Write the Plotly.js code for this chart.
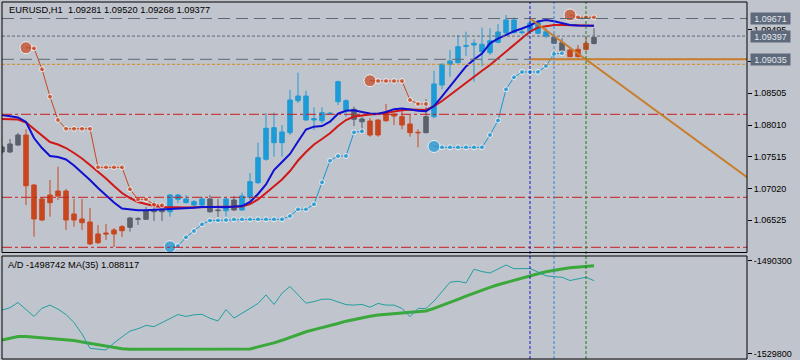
<!DOCTYPE html>
<html><head><meta charset="utf-8">
<script src="https://cdn.plot.ly/plotly-3.0.1.min.js"></script>
<style>html,body{margin:0;padding:0;background:#C0C4CC;}#chart{width:800px;height:360px;}</style>
</head><body><div id="chart"></div>
<script>
// ---- price bars (EURUSD H1) ----
const openP = [1.07589,1.07589,1.07698,1.07854,1.07074,1.06856,1.06918,1.0698,1.0698,1.06622,
1.06544,1.06497,1.0631,1.06325,1.06372,1.06424,1.06414,1.06539,1.06539,1.06657,
1.06657,1.06657,1.06851,1.06798,1.06762,1.06762,1.06856,1.06684,1.06673,1.0684,
1.06684,1.06882,1.0711,1.07475,1.07734,1.07734,1.0789,1.08389,1.08088,1.08088,
1.08077,1.08186,1.08374,1.08244,1.08255,1.08104,1.08072,1.08088,1.08193,1.08182,
1.0814,1.08026,1.07896,1.0789,1.0814,1.08634,1.08957,1.08982,1.09238,1.09258,
1.09154,1.09138,1.093,1.0945,1.0945,1.0945,1.09466,1.09441,1.09398,1.09378,
1.09294,1.0918,1.09191,1.09285,1.09281];
const highP = [1.07698,1.07792,1.07885,1.07943,1.0709,1.06887,1.07152,1.0736,1.07012,1.06856,
1.06856,1.06715,1.0645,1.06466,1.06403,1.0645,1.06575,1.06575,1.06731,1.06824,
1.06793,1.06934,1.06934,1.06918,1.0684,1.06887,1.06918,1.06856,1.06876,1.06902,
1.06954,1.07261,1.07734,1.08193,1.08202,1.0801,1.08556,1.08826,1.08545,1.08286,
1.08286,1.08213,1.08701,1.08411,1.08296,1.08135,1.08119,1.08099,1.08338,1.08197,
1.08275,1.08166,1.07943,1.08411,1.08857,1.08973,1.0918,1.09414,1.09466,1.09347,
1.09528,1.09519,1.09586,1.09726,1.0969,1.09519,1.0969,1.09648,1.09519,1.0943,
1.09363,1.09207,1.09258,1.09378,1.0952];
const lowP = [1.07558,1.07573,1.07682,1.06762,1.06268,1.06512,1.0658,1.0684,1.06372,1.06424,
1.06372,1.06138,1.06154,1.06216,1.06107,1.06263,1.06346,1.0645,1.06528,1.06512,
1.06512,1.0658,1.06793,1.06789,1.06731,1.06746,1.06642,1.06575,1.0658,1.06673,
1.06673,1.0684,1.0709,1.07453,1.07516,1.07516,1.07854,1.08353,1.08077,1.07932,
1.08037,1.08174,1.08322,1.0814,1.07994,1.0787,1.07828,1.07828,1.08061,1.0801,
1.07943,1.07828,1.07662,1.0788,1.08115,1.08567,1.08763,1.08973,1.09086,1.08686,
1.0892,1.09102,1.09285,1.0943,1.09441,1.0943,1.09441,1.0943,1.09363,1.09274,
1.09154,1.09066,1.09066,1.09169,1.09268];
const closeP = [1.07667,1.07714,1.07854,1.07063,1.06544,1.06528,1.06798,1.06902,1.06528,1.06528,
1.06486,1.06154,1.06174,1.0631,1.0631,1.06361,1.06559,1.06548,1.06673,1.06684,
1.067,1.06918,1.06918,1.06856,1.06814,1.06856,1.06657,1.06675,1.06856,1.06684,
1.06902,1.07126,1.075,1.07959,1.07968,1.07901,1.084,1.08462,1.08462,1.08108,
1.08202,1.08193,1.08686,1.08389,1.08099,1.08061,1.07854,1.07854,1.08077,1.0815,
1.0801,1.0789,1.0789,1.0814,1.0865,1.08957,1.09008,1.09231,1.09247,1.09285,
1.09269,1.09325,1.09461,1.09648,1.09648,1.09461,1.09597,1.09606,1.09466,1.09285,
1.09169,1.09076,1.09076,1.09191,1.09377];
// bar colour class: B = up-trend, O = down-trend, G = neutral
const barClass = ["GGG","OOOOOOOOOOOOO","GGGGG","BBBBB","GG","B","G","BBBBBBBBBBBBBB","GG",
"OOOOOOO","G","BBBBBBBBBBBBBBB","GG","OOO","G"].join("").split("");

// ---- moving averages ----
const maFast = [1.08166,1.08143,1.08127,1.08057,1.07807,1.07651,1.07526,1.07511,1.07472,1.07378,
1.07269,1.07152,1.07027,1.0691,1.06801,1.06707,1.06689,1.06679,1.06679,1.06684,
1.06692,1.067,1.06704,1.06709,1.06718,1.06731,1.06734,1.06731,1.06726,1.06731,
1.06746,1.06809,1.06934,1.07082,1.07308,1.07433,1.07558,1.07753,1.0794,1.07984,
1.07994,1.08062,1.08186,1.08233,1.08239,1.08213,1.08189,1.08186,1.08213,1.08257,
1.08269,1.08252,1.08232,1.08224,1.08306,1.08455,1.08618,1.08767,1.08923,1.09032,
1.09125,1.09285,1.09359,1.09419,1.09472,1.09515,1.09562,1.09625,1.09648,1.09629,
1.09601,1.0957,1.09561,1.09559,1.09559];
const maSlow = [1.08104,1.08104,1.08096,1.08049,1.07948,1.07838,1.07745,1.07706,1.07651,1.07573,
1.07487,1.07386,1.07285,1.07175,1.07058,1.06949,1.06871,1.06809,1.06778,1.06746,
1.06731,1.06726,1.06723,1.06723,1.06728,1.06731,1.06731,1.06734,1.06735,1.06737,
1.06739,1.06778,1.06848,1.06949,1.07058,1.0716,1.07292,1.07456,1.07589,1.07706,
1.07792,1.0788,1.07994,1.08088,1.08143,1.08163,1.08174,1.08182,1.08202,1.08224,
1.08239,1.08252,1.08252,1.08244,1.08306,1.08384,1.08478,1.08575,1.08673,1.08764,
1.08856,1.08946,1.09051,1.0916,1.09274,1.09375,1.09469,1.09531,1.09556,1.0957,
1.0957,1.09568,1.09562,1.09559,1.09559];

// ---- parabolic SAR style dots ----
const N = null;
const sarAbove = [N,N,N,1.09216,1.09207,1.08879,1.08452,1.08088,1.07951,1.07951,
1.07951,1.07951,1.0735,1.0735,1.0735,1.0735,1.07007,1.06851,1.06851,1.0677,
1.06757,N,N,N,N,N,N,N,N,N,
N,N,N,N,N,N,N,N,N,N,
N,N,N,N,N,N,1.08701,1.08696,1.08696,1.08696,
1.08696,1.084,1.08338,1.08338,N,N,N,N,N,N,
N,N,N,N,N,N,N,N,N,N,
N,1.09726,1.0969,1.0969,1.0969];
const sarBelow = [N,N,N,N,N,N,N,N,N,N,
N,N,N,N,N,N,N,N,N,N,
N,1.06111,1.06122,1.06258,1.06356,1.06461,1.0652,1.06523,1.06528,1.06539,
1.06539,1.06539,1.06539,1.06539,1.06539,1.06539,1.0659,1.06695,1.06695,1.06773,
1.07116,1.07453,1.07526,1.07526,1.07896,1.07912,N,N,N,N,
N,N,N,N,1.07675,1.07662,1.07662,1.07662,1.07662,1.07662,
1.07662,1.07854,1.0808,1.08567,1.08754,1.08837,1.08837,1.08837,1.0893,1.09118,
1.09129,N,N,N,N];

// ---- A/D indicator ----
const adLine = [-1511200,-1510200,-1508000,-1510800,-1513900,-1510400,-1509100,-1510800,-1513100,-1516500,
-1521300,-1527400,-1527700,-1528100,-1525100,-1522600,-1520100,-1519100,-1517700,-1518200,
-1516400,-1514600,-1513100,-1513900,-1513200,-1513000,-1514700,-1515800,-1511000,-1514600,
-1512700,-1510500,-1508400,-1504800,-1508800,-1504100,-1501200,-1504700,-1508300,-1507600,
-1506600,-1506600,-1507900,-1508900,-1509100,-1508800,-1510000,-1508400,-1509100,-1509100,
-1510500,-1514000,-1510500,-1510500,-1507400,-1503300,-1499400,-1499000,-1499700,-1493900,
-1494900,-1495500,-1493800,-1492100,-1493700,-1493600,-1493600,-1495100,-1496700,-1497100,
-1497300,-1498700,-1498000,-1497300,-1498742];
const adMA35 = [-1523900,-1523100,-1522400,-1522400,-1522700,-1522900,-1523200,-1523400,-1523600,-1524100,
-1524700,-1525300,-1525800,-1526500,-1527300,-1527600,-1527800,-1527800,-1527800,-1527800,
-1527800,-1527800,-1527800,-1527800,-1527800,-1527800,-1527800,-1527800,-1527800,-1527800,
-1527800,-1527700,-1526800,-1526100,-1525100,-1524000,-1522700,-1521400,-1520400,-1519500,
-1518700,-1517900,-1516900,-1515900,-1515100,-1514400,-1513800,-1513300,-1512900,-1512700,
-1512400,-1512100,-1511900,-1511600,-1510500,-1509300,-1508100,-1506700,-1505300,-1504000,
-1502800,-1501600,-1500500,-1499500,-1498600,-1497600,-1496700,-1495800,-1495000,-1494300,
-1493800,-1493300,-1492900,-1492700,-1492400];

// ---- chart objects ----
const priceTicks = [1.06525,1.07020,1.07515,1.08010,1.08505,1.09000,1.09495];
const priceTickText = ['1.06525','1.07020','1.07515','1.08010','1.08505','','1.09495'];
const adTicks = [-1490300,-1529800];
const adTickText = ['-1490300','-1529800'];
const hLevels = {dashLong:[1.09671,1.09035], dashShort:[1.09397], dotOrange:[1.08957], dashDotRed:[1.08177,1.06882,1.06102]};
const priceLabels = ['1.09671','1.09397','1.09035'];
const trendAnchors = [[66,1.09671],[80,1.08393]];
const levelStartBar = 66, levelPrice = 1.09035;
const vLines = [[66,'#1616C8'],[69,'#2C86E0'],[73,'#1E7A1E']];
const titleText = 'EURUSD,H1  1.09281 1.09520 1.09268 1.09377';
const adText = 'A/D -1498742 MA(35) 1.088117';

// ---- build ----
const idx = openP.map((_, i) => i);
const FONT = 'Liberation Sans, Arial, sans-serif';
const colors = {B:'#1E9BD7', O:'#C8461E', G:'#5A606C'};
const traces = [];
['G','O','B'].forEach(c => {
  const sel = idx.filter(i => barClass[i] === c);
  traces.push({type:'candlestick', xaxis:'x', yaxis:'y', x:sel,
    open:sel.map(i=>openP[i]), high:sel.map(i=>highP[i]), low:sel.map(i=>lowP[i]), close:sel.map(i=>closeP[i]),
    increasing:{line:{color:colors[c], width:1}, fillcolor:colors[c]},
    decreasing:{line:{color:colors[c], width:1}, fillcolor:colors[c]},
    whiskerwidth:0, hoverinfo:'skip', showlegend:false});
});
traces.push({type:'scatter', mode:'lines', x:idx, y:maSlow, line:{color:'#D01818', width:2}, hoverinfo:'skip'});
traces.push({type:'scatter', mode:'lines', x:idx, y:maFast, line:{color:'#1010D0', width:2}, hoverinfo:'skip'});
function sarTrace(arr, col){
  const sizes = arr.map((v,i)=> v==null ? 0 : ((i===0 || arr[i-1]==null) ? 12 : 5));
  return {type:'scatter', mode:'lines+markers', x:idx, y:arr, connectgaps:false,
    line:{color:col, width:1}, marker:{color:col, size:sizes}, hoverinfo:'skip'};
}
traces.push(sarTrace(sarAbove, '#C8461E'));
traces.push(sarTrace(sarBelow, '#1A96D4'));
traces.push({type:'scatter', mode:'lines', x:idx, y:adMA35, xaxis:'x2', yaxis:'y2', line:{color:'#3AA83A', width:3}, hoverinfo:'skip'});
traces.push({type:'scatter', mode:'lines', x:idx, y:adLine, xaxis:'x2', yaxis:'y2', line:{color:'#22A0A0', width:1}, hoverinfo:'skip'});

const XMAX = 93.125;
const shapes = [];
function hline(y, color, dash, width){
  shapes.push({type:'line', xref:'paper', yref:'y', x0:0, x1:1, y0:y, y1:y, line:{color:color, width:width||1, dash:dash}});
}
hLevels.dashLong.forEach(v => hline(v, '#5E6876', '12px,6px'));
hLevels.dashShort.forEach(v => hline(v, '#5E6876', '3px,2px'));
hLevels.dotOrange.forEach(v => hline(v, '#D48C1E', '3px,2px'));
hLevels.dashDotRed.forEach(v => hline(v, '#C81E1E', '10px,3px,3px,3px'));
shapes.push({type:'line', xref:'x', yref:'y', x0:levelStartBar, x1:XMAX, y0:levelPrice, y1:levelPrice, line:{color:'#C87D2A', width:2}});
const slope = (trendAnchors[1][1]-trendAnchors[0][1])/(trendAnchors[1][0]-trendAnchors[0][0]);
shapes.push({type:'line', xref:'x', yref:'y', x0:trendAnchors[0][0], y0:trendAnchors[0][1], x1:XMAX, y1:trendAnchors[0][1]+slope*(XMAX-trendAnchors[0][0]), line:{color:'#C87D2A', width:2}});
vLines.forEach(([b,c]) => shapes.push({type:'line', xref:'x', yref:'paper', x0:b, x1:b, y0:0, y1:1, line:{color:c, width:1, dash:'3px,2px'}}));
const MAIN_BOT = 0.2983, SUB_TOP = 0.2885;
shapes.push({type:'rect', xref:'paper', yref:'paper', x0:0, x1:1, y0:MAIN_BOT, y1:1, line:{color:'#000', width:1}});
shapes.push({type:'rect', xref:'paper', yref:'paper', x0:0, x1:1, y0:0, y1:SUB_TOP, line:{color:'#000', width:1}});

const annotations = [
  {xref:'paper', yref:'paper', x:0.0067, y:0.9776, xanchor:'left', yanchor:'middle', text:titleText, showarrow:false, font:{family:FONT, size:9.3, color:'#000'}},
  {xref:'paper', yref:'paper', x:0.0054, y:0.2629, xanchor:'left', yanchor:'middle', text:adText, showarrow:false, font:{family:FONT, size:9.3, color:'#000'}}
];
priceLabels.forEach(v => annotations.push({xref:'paper', yref:'y', x:1.004, y:parseFloat(v), xanchor:'left', yanchor:'middle',
  text:v, showarrow:false, bgcolor:'#5E6A7C', borderpad:0, width:39, height:11,
  font:{family:FONT, size:9, color:'#E4E8EE'}}));

const axY = {side:'right', showgrid:false, zeroline:false, ticks:'outside', ticklen:4, tickcolor:'#000', tickwidth:1,
  tickfont:{family:FONT, size:9, color:'#000'}, showline:false, fixedrange:true};
const layout = {
  width:800, height:360, margin:{l:2, r:53, t:2, b:1},
  paper_bgcolor:'#C0C4CC', plot_bgcolor:'#C0C4CC', showlegend:false,
  boxgap:0.25, boxgroupgap:0.25,
  xaxis:{range:[0,XMAX], domain:[0,1], anchor:'y', showgrid:false, zeroline:false, showticklabels:false, ticks:'', rangeslider:{visible:false}, fixedrange:true},
  xaxis2:{range:[0,XMAX], domain:[0,1], anchor:'y2', showgrid:false, zeroline:false, showticklabels:false, ticks:'', fixedrange:true},
  yaxis:Object.assign({}, axY, {domain:[MAIN_BOT,1], range:[1.06021,1.099288], anchor:'x', tickvals:priceTicks, ticktext:priceTickText}),
  yaxis2:Object.assign({}, axY, {domain:[0,SUB_TOP], range:[-1531920,-1488310], anchor:'x2', tickvals:adTicks, ticktext:adTickText}),
  shapes:shapes, annotations:annotations
};
Plotly.newPlot('chart', traces, layout, {staticPlot:true, displayModeBar:false});
</script></body></html>
